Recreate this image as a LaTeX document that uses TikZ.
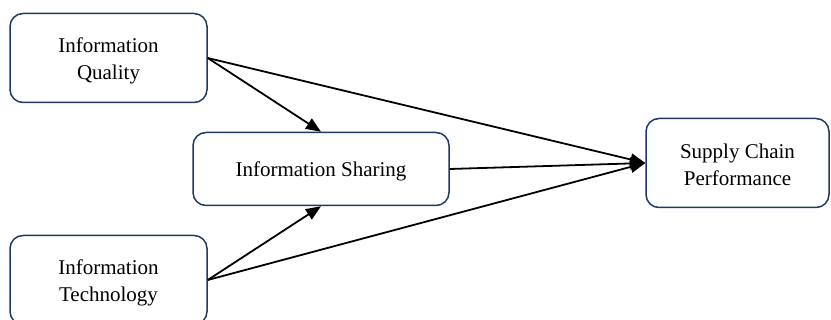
\documentclass[tikz,border=0pt]{standalone}
\usepackage{fontspec}
\setmainfont{Liberation Serif}
\usetikzlibrary{arrows.meta}
\definecolor{boxline}{HTML}{1F3864}
\tikzset{
  factor/.style={draw=boxline, line width=1.5pt, rounded corners=13pt, fill=white, inner sep=0pt},
  caption/.style={align=center, font=\fontsize{21}{27}\selectfont, inner sep=0pt, yshift=-2.5pt},
  link/.style={line width=1.8pt, -{Triangle[length=15pt,width=12pt]}}
}
\begin{document}
\begin{tikzpicture}[x=1pt,y=-1pt]
\useasboundingbox (0,0) rectangle (831,320);
\node[factor, minimum width=197pt, minimum height=89pt,
  label={[caption]center:{Information\\Quality}}] (iq) at (108.5,58) {};
\node[factor, minimum width=256pt, minimum height=73pt,
  label={[caption]center:{Information Sharing}}] (is) at (321,169) {};
\node[factor, minimum width=183pt, minimum height=89pt,
  label={[caption, yshift=1pt]center:{Supply Chain\\Performance}}] (scp) at (737.5,163) {};
\node[factor, minimum width=197pt, minimum height=89pt,
  label={[caption]center:{Information\\Technology}}] (it) at (108.5,280) {};
\draw[link] (iq.east) -- (is.north);
\draw[link] (iq.east) -- (scp.west);
\draw[link] (it.east) -- (is.south);
\draw[link] (it.east) -- (scp.west);
\draw[link] (is.east) -- (scp.west);
\end{tikzpicture}
\end{document}
